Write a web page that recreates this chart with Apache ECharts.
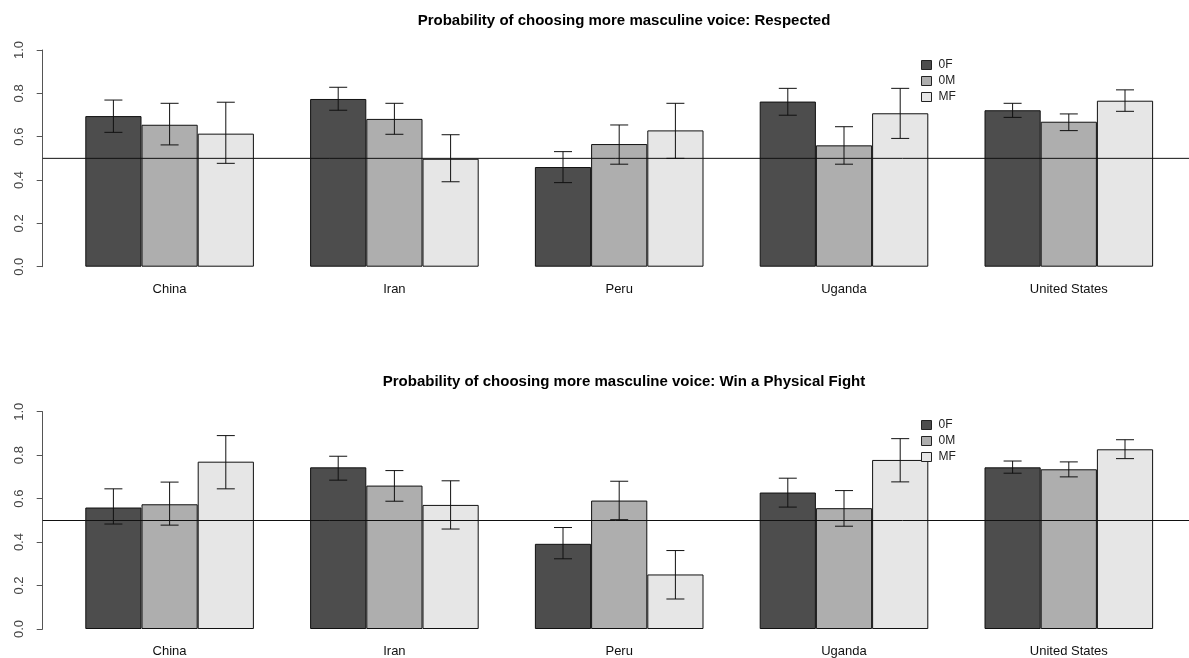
<!DOCTYPE html>
<html>
<head>
<meta charset="utf-8">
<script src="https://cdn.jsdelivr.net/npm/echarts@6/dist/echarts.min.js"></script>
<style>
html,body{margin:0;padding:0;background:#fff;}
#chart{width:1189px;height:658px;}
</style>
</head>
<body>
<div id="chart"></div>
<script>
// ---------- data ----------
var categories = ['China', 'Iran', 'Peru', 'Uganda', 'United States'];
var seriesNames = ['0F', '0M', 'MF'];
var yTicks = [0, 0.2, 0.4, 0.6, 0.8, 1.0];
var refLine = 0.5;

var titleTop = 'Probability of choosing more masculine voice: Respected';
var titleBottom = 'Probability of choosing more masculine voice: Win a Physical Fight';

// Respected
var resp0F = [0.695, 0.774, 0.460, 0.762, 0.722];
var resp0M = [0.655, 0.682, 0.566, 0.560, 0.669];
var respMF = [0.614, 0.498, 0.629, 0.708, 0.766];
var respLo0F = [0.620, 0.722, 0.388, 0.699, 0.689];
var respHi0F = [0.769, 0.828, 0.531, 0.823, 0.754];
var respLo0M = [0.562, 0.611, 0.473, 0.473, 0.628];
var respHi0M = [0.754, 0.754, 0.654, 0.646, 0.705];
var respLoMF = [0.477, 0.392, 0.500, 0.592, 0.717];
var respHiMF = [0.759, 0.609, 0.754, 0.823, 0.816];

// Win a Physical Fight
var fight0F = [0.559, 0.744, 0.392, 0.628, 0.744];
var fight0M = [0.574, 0.660, 0.591, 0.556, 0.735];
var fightMF = [0.770, 0.571, 0.251, 0.778, 0.827];
var fightLo0F = [0.483, 0.685, 0.323, 0.561, 0.717];
var fightHi0F = [0.645, 0.795, 0.467, 0.694, 0.773];
var fightLo0M = [0.478, 0.588, 0.503, 0.473, 0.700];
var fightHi0M = [0.676, 0.729, 0.680, 0.637, 0.769];
var fightLoMF = [0.645, 0.460, 0.138, 0.677, 0.784];
var fightHiMF = [0.890, 0.682, 0.361, 0.876, 0.871];

// ---------- styling ----------
var colors = ['#4D4D4D', '#AEAEAE', '#E6E6E6'];
var FONT = 'Liberation Sans, Arial, sans-serif';
var panels = [
  {title: titleTop, top: 50, height: 216.7, titleTop: 8, legendTop: 54,
   vals: [resp0F, resp0M, respMF], lo: [respLo0F, respLo0M, respLoMF], hi: [respHi0F, respHi0M, respHiMF]},
  {title: titleBottom, top: 411.7, height: 217.6, titleTop: 369, legendTop: 414,
   vals: [fight0F, fight0M, fightMF], lo: [fightLo0F, fightLo0M, fightLoMF], hi: [fightHi0F, fightHi0M, fightHiMF]}
];

var option = {
  animation: false,
  backgroundColor: '#fff',
  textStyle: {fontFamily: FONT},
  title: [], legend: [], grid: [], xAxis: [], yAxis: [], series: []
};

panels.forEach(function (p, pi) {
  option.title.push({
    text: p.title, left: 619, top: p.titleTop, textAlign: 'center',
    textStyle: {fontSize: 15, fontWeight: 'bold', color: '#000', fontFamily: FONT}
  });
  option.legend.push({
    data: seriesNames, orient: 'vertical', left: 916, top: p.legendTop,
    itemWidth: 10, itemHeight: 9, itemGap: 4,
    icon: 'rect',
    itemStyle: {borderColor: '#222', borderWidth: 1},
    textStyle: {fontSize: 12, color: '#222', fontFamily: FONT, padding: [0, 0, 0, 2]},
    selectedMode: false
  });
  // bar grid
  var gBar = option.grid.length;
  option.grid.push({left: 57.2, width: 1124, top: p.top, height: p.height});
  // reference-line grid (R plot region, clipped at image edge)
  var gLine = option.grid.length;
  option.grid.push({left: 42.7, right: 0, top: p.top, height: p.height});

  var xBar = option.xAxis.length;
  option.xAxis.push({
    type: 'category', gridIndex: gBar, data: categories,
    axisLine: {show: false}, axisTick: {show: false}, splitLine: {show: false},
    axisLabel: {fontSize: 13, color: '#111', margin: 16, fontFamily: FONT, interval: 0}
  });
  var xLine = option.xAxis.length;
  option.xAxis.push({type: 'value', gridIndex: gLine, min: 0, max: 1, show: false});

  var yBar = option.yAxis.length;
  option.yAxis.push({
    type: 'value', gridIndex: gBar, min: 0, max: 1, interval: 0.2, offset: 14.5,
    axisLine: {show: true, lineStyle: {color: '#555', width: 1}},
    axisTick: {show: true, length: 6, lineStyle: {color: '#555'}},
    splitLine: {show: false},
    axisLabel: {rotate: 90, fontSize: 13, color: '#444', margin: 17, fontFamily: FONT,
      formatter: function (v) { return v.toFixed(1); }}
  });
  var yLine = option.yAxis.length;
  option.yAxis.push({type: 'value', gridIndex: gLine, min: 0, max: 1, show: false});

  seriesNames.forEach(function (name, s) {
    option.series.push({
      type: 'bar', name: name, xAxisIndex: xBar, yAxisIndex: yBar,
      data: p.vals[s], barWidth: '25%', barGap: '0%',
      itemStyle: {color: colors[s], borderColor: '#111', borderWidth: 1},
      z: 2
    });
  });

  // error bars
  var errData = [];
  seriesNames.forEach(function (name, s) {
    categories.forEach(function (c, i) {
      errData.push([i, p.lo[s][i], p.hi[s][i], s]);
    });
  });
  option.series.push({
    type: 'custom', xAxisIndex: xBar, yAxisIndex: yBar, z: 5,
    data: errData, encode: {x: 0, y: [1, 2]},
    renderItem: function (params, api) {
      var i = api.value(0), lo = api.value(1), hi = api.value(2), s = api.value(3);
      var band = api.size([1, 0])[0];
      var bw = band / 4;
      var dx = (s - 1) * bw;
      var pLo = api.coord([i, lo]);
      var pHi = api.coord([i, hi]);
      var x = pLo[0] + dx;
      var cap = 9;
      var st = {stroke: '#111', lineWidth: 1, fill: null};
      return {
        type: 'group',
        children: [
          {type: 'line', shape: {x1: x, y1: pLo[1], x2: x, y2: pHi[1]}, style: st},
          {type: 'line', shape: {x1: x - cap, y1: pLo[1], x2: x + cap, y2: pLo[1]}, style: st},
          {type: 'line', shape: {x1: x - cap, y1: pHi[1], x2: x + cap, y2: pHi[1]}, style: st}
        ]
      };
    }
  });

  // reference line at 0.5
  option.series.push({
    type: 'line', xAxisIndex: xLine, yAxisIndex: yLine, z: 6,
    data: [[0, refLine], [1, refLine]], symbol: 'none', silent: true,
    lineStyle: {color: '#111', width: 1}
  });
});

var chart = echarts.init(document.getElementById('chart'), null, {renderer: 'canvas'});
chart.setOption(option);
</script>
</body>
</html>
